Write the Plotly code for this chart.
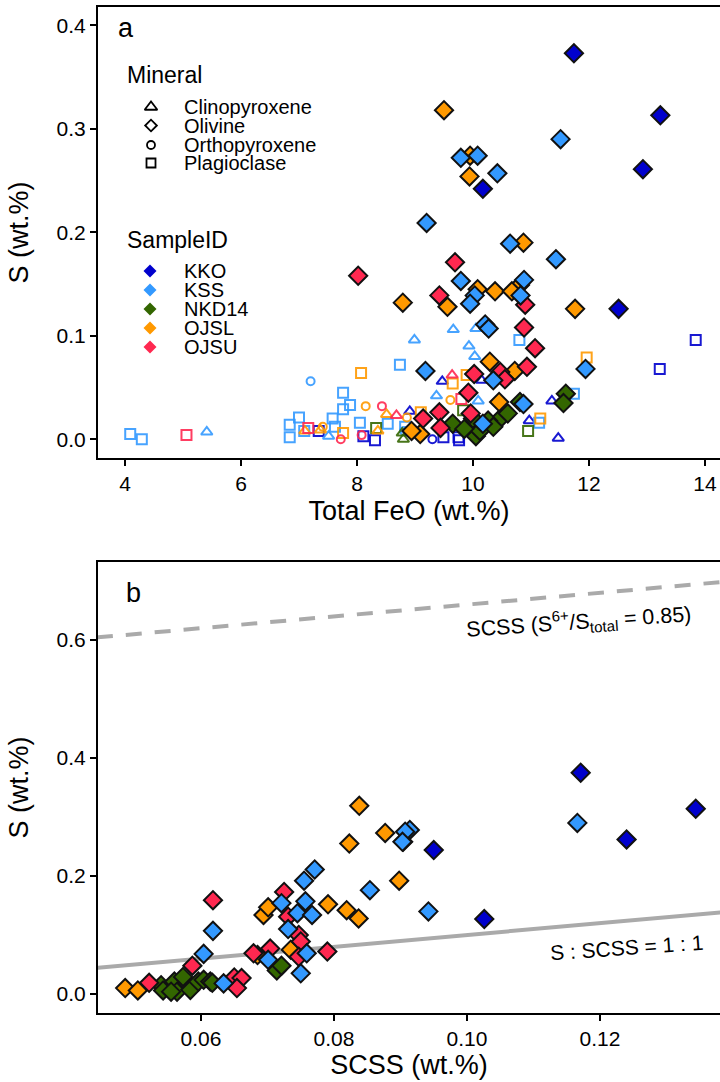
import plotly.graph_objects as go

# ---------------- data ----------------
samples = ["KKO", "KSS", "NKD14", "OJSL", "OJSU"]
sample_colors = {"KKO": "#0000CD", "KSS": "#3399FF", "NKD14": "#336600",
                 "OJSL": "#FF9900", "OJSU": "#FF2850"}
minerals = ["Clinopyroxene", "Olivine", "Orthopyroxene", "Plagioclase"]

# Panel a: olivine (filled diamonds) Total FeO vs S
ol_feo = {
    "KKO": [11.74, 13.23, 12.93, 10.17, 12.51],
    "KSS": [11.51, 9.79, 10.08, 10.42, 9.20, 10.64, 11.43, 9.79, 10.88, 10.03, 10.82, 9.95,
            10.21, 10.27, 9.18, 10.35, 11.94, 10.87, 10.17],
    "NKD14": [10.81, 11.60, 11.56, 9.65, 10.47, 10.26, 10.05, 10.12, 10.35, 9.85, 10.60, 10.00],
    "OJSL": [9.50, 9.95, 9.94, 10.87, 10.81, 10.08, 10.38, 10.67, 8.79, 9.56, 11.76, 10.29,
             10.72, 10.45, 9.09, 8.94],
    "OJSU": [9.69, 8.02, 9.42, 10.90, 10.88, 11.07, 10.93, 10.02, 10.47, 10.55, 9.92, 9.42,
             9.96, 9.14, 9.44],
}
ol_s = {
    "KKO": [0.373, 0.313, 0.261, 0.242, 0.126],
    "KSS": [0.290, 0.272, 0.274, 0.257, 0.209, 0.189, 0.174, 0.153, 0.154, 0.139, 0.139, 0.131,
            0.111, 0.107, 0.066, 0.057, 0.068, 0.034, 0.015],
    "NKD14": [0.036, 0.044, 0.035, 0.015, 0.020, 0.018, 0.003, 0.008, 0.012, 0.010, 0.025, 0.020],
    "OJSL": [0.318, 0.274, 0.254, 0.190, 0.149, 0.145, 0.143, 0.143, 0.132, 0.128, 0.126, 0.075,
             0.066, 0.036, 0.005, 0.008],
    "OJSU": [0.171, 0.158, 0.139, 0.130, 0.108, 0.088, 0.070, 0.063, 0.065, 0.058, 0.045, 0.026,
             0.025, 0.020, 0.011],
}

# Panel a: other minerals (open symbols): (sample, mineral) -> FeO, S
other_feo = {
    ("KKO", "Clinopyroxene"): [8.91, 9.47, 10.15, 11.36, 10.97, 11.47],
    ("KKO", "Orthopyroxene"): [9.30],
    ("KKO", "Plagioclase"): [7.34, 8.11, 8.31, 13.84, 13.22, 9.49, 9.75, 9.76],
    ("KSS", "Clinopyroxene"): [5.41, 7.51, 8.99, 9.66, 10.05, 9.93, 10.03, 9.37, 10.09],
    ("KSS", "Orthopyroxene"): [7.20, 8.81],
    ("KSS", "Plagioclase"): [4.09, 4.29, 8.74, 7.76, 7.88, 7.76, 7.58, 7.00, 6.84, 6.84, 7.09,
                             7.62, 8.05, 8.53, 10.80, 11.74, 11.14, 8.83],
    ("NKD14", "Clinopyroxene"): [8.78, 8.80],
    ("NKD14", "Plagioclase"): [8.33, 10.95, 9.83],
    ("OJSL", "Clinopyroxene"): [7.37, 8.36, 8.51, 7.10],
    ("OJSL", "Orthopyroxene"): [7.41, 8.15, 8.86, 9.61],
    ("OJSL", "Plagioclase"): [8.07, 7.76, 9.65, 9.89, 11.96, 11.16, 9.10],
    ("OJSU", "Clinopyroxene"): [8.68, 9.64],
    ("OJSU", "Orthopyroxene"): [7.72, 8.43, 8.08],
    ("OJSU", "Plagioclase"): [5.06, 7.16, 9.80],
}
other_s = {
    ("KKO", "Clinopyroxene"): [0.027, 0.056, 0.057, 0.037, 0.018, 0.001],
    ("KKO", "Orthopyroxene"): [0.000],
    ("KKO", "Plagioclase"): [0.008, 0.003, -0.001, 0.096, 0.068, 0.002, 0.002, -0.001],
    ("KSS", "Clinopyroxene"): [0.007, 0.003, 0.096, 0.106, 0.107, 0.090, 0.080, 0.042, 0.037],
    ("KSS", "Orthopyroxene"): [0.056, 0.008],
    ("KSS", "Plagioclase"): [0.005, 0.000, 0.072, 0.045, 0.033, 0.029, 0.020, 0.021, 0.014,
                             0.002, 0.008, 0.012, 0.016, 0.015, 0.096, 0.044, 0.016, 0.012],
    ("NKD14", "Clinopyroxene"): [0.006, 0.000],
    ("NKD14", "Plagioclase"): [0.011, 0.008, 0.028],
    ("OJSL", "Clinopyroxene"): [0.009, 0.008, 0.024, 0.008],
    ("OJSL", "Orthopyroxene"): [0.012, 0.032, 0.021, 0.038],
    ("OJSL", "Plagioclase"): [0.064, 0.006, 0.054, 0.062, 0.079, 0.020, 0.026],
    ("OJSU", "Clinopyroxene"): [0.023, 0.062],
    ("OJSU", "Orthopyroxene"): [0.000, 0.032, 0.004],
    ("OJSU", "Plagioclase"): [0.004, 0.011, 0.039],
}

# Panel b: olivine SCSS vs S
b_scss = {
    "KKO": [0.1171, 0.1344, 0.1240, 0.0950, 0.1026],
    "KSS": [0.0854, 0.0771, 0.0755, 0.0618, 0.0721, 0.0757, 0.0745, 0.0767, 0.0731, 0.0604,
            0.0701, 0.0759, 0.0750, 0.0634, 0.1166, 0.0942, 0.0914, 0.0904, 0.0907, 0.0903],
    "NKD14": [0.0714, 0.0721, 0.0540, 0.0543, 0.0560, 0.0564, 0.0579, 0.0573, 0.0584, 0.0596,
              0.0604, 0.0614, 0.0617, 0.0555],
    "OJSL": [0.0838, 0.0877, 0.0823, 0.0898, 0.0791, 0.0819, 0.0837, 0.0694, 0.0701, 0.0685,
             0.0735, 0.0486, 0.0505],
    "OJSU": [0.0618, 0.0725, 0.0731, 0.0747, 0.0587, 0.0679, 0.0704, 0.0750, 0.0747, 0.0790,
             0.0522, 0.0650, 0.0661, 0.0654],
}
b_s = {
    "KKO": [0.375, 0.314, 0.262, 0.244, 0.127],
    "KSS": [0.176, 0.211, 0.192, 0.107, 0.154, 0.157, 0.137, 0.134, 0.110, 0.068,
            0.058, 0.069, 0.035, 0.018, 0.290, 0.140, 0.278, 0.258, 0.275, 0.258],
    "NKD14": [0.040, 0.048, 0.015, 0.006, 0.021, 0.004, 0.018, 0.029, 0.007, 0.021,
              0.024, 0.021, 0.019, 0.004],
    "OJSL": [0.319, 0.273, 0.255, 0.192, 0.152, 0.142, 0.128, 0.134, 0.147, 0.066,
             0.075, 0.010, 0.006],
    "OJSU": [0.159, 0.173, 0.131, 0.100, 0.048, 0.069, 0.077, 0.089, 0.063, 0.072,
             0.019, 0.028, 0.027, 0.010],
}

# reference lines in panel b
ref_x = [0.04, 0.14]
offset_085 = 0.56  # SCSS (S6+/Stotal = 0.85) curve offset

# tick labels
a_xticks = [4, 6, 8, 10, 12, 14]
a_yticks = [0.0, 0.1, 0.2, 0.3, 0.4]
b_xticks = [0.06, 0.08, 0.10, 0.12]
b_yticks = [0.0, 0.2, 0.4, 0.6]

# ---------------- layout constants ----------------
W, H = 720, 1082
ML, MR, MT, MB = 98, 0, 7, 69
FONT = "Liberation Sans, Arial, Helvetica, sans-serif"
open_symbol = {"Clinopyroxene": "triangle-up-open", "Orthopyroxene": "circle-open",
               "Plagioclase": "square-open"}
open_size = {"Clinopyroxene": 10, "Orthopyroxene": 8, "Plagioclase": 10}
draw_order = ["NKD14", "OJSL", "OJSU", "KSS", "KKO"]

fig = go.Figure()

# open symbols (panel a)
for (smp, mn), xs in other_feo.items():
    fig.add_trace(go.Scatter(
        x=xs, y=other_s[(smp, mn)], mode="markers", xaxis="x", yaxis="y",
        marker=dict(symbol=open_symbol[mn], size=open_size[mn], color=sample_colors[smp],
                    line=dict(width=2, color=sample_colors[smp]), opacity=0.9),
        showlegend=False, hoverinfo="skip"))

# olivine diamonds (panel a)
for smp in draw_order:
    fig.add_trace(go.Scatter(
        x=ol_feo[smp], y=ol_s[smp], mode="markers", xaxis="x", yaxis="y",
        marker=dict(symbol="diamond", size=14, color=sample_colors[smp],
                    line=dict(width=2, color="#111111")),
        showlegend=False, hoverinfo="skip"))

# reference lines (panel b)
fig.add_trace(go.Scatter(x=ref_x, y=[v + offset_085 for v in ref_x], mode="lines",
                         xaxis="x2", yaxis="y2", line=dict(color="#AAAAAA", width=4, dash="16px,13px"),
                         showlegend=False, hoverinfo="skip"))
fig.add_trace(go.Scatter(x=ref_x, y=ref_x, mode="lines", xaxis="x2", yaxis="y2",
                         line=dict(color="#AAAAAA", width=4), showlegend=False, hoverinfo="skip"))

# olivine diamonds (panel b)
for smp in draw_order:
    fig.add_trace(go.Scatter(
        x=b_scss[smp], y=b_s[smp], mode="markers", xaxis="x2", yaxis="y2",
        marker=dict(symbol="diamond", size=14, color=sample_colors[smp],
                    line=dict(width=2, color="#111111")),
        showlegend=False, hoverinfo="skip"))

# ---------------- manual legend (pixel overlay axes) ----------------
leg_sym_x = 151
leg_text_x = 182
mineral_rows = [107, 125.5, 145, 163]
sample_rows = [271, 290, 309, 328, 347]
leg_symbols = ["triangle-up-open", "diamond-open", "circle-open", "square-open"]
leg_sizes = [11, 9, 8, 9]
for sym, sz, yy in zip(leg_symbols, leg_sizes, mineral_rows):
    fig.add_trace(go.Scatter(x=[leg_sym_x], y=[yy], mode="markers", xaxis="x3", yaxis="y3",
                             marker=dict(symbol=sym, size=sz, color="black",
                                         line=dict(width=1.8, color="black")),
                             showlegend=False, hoverinfo="skip"))
for smp, yy in zip(samples, sample_rows):
    fig.add_trace(go.Scatter(x=[leg_sym_x - 1], y=[yy], mode="markers", xaxis="x3", yaxis="y3",
                             marker=dict(symbol="diamond", size=10, color=sample_colors[smp],
                                         line=dict(width=0)),
                             showlegend=False, hoverinfo="skip"))

annotations = []
annotations.append(dict(text="Mineral", x=125, y=75, xref="x3", yref="y3", xanchor="left",
                        yanchor="middle", showarrow=False, font=dict(size=23, family=FONT, color="black")))
for mn, yy in zip(minerals, mineral_rows):
    annotations.append(dict(text=mn, x=leg_text_x, y=yy, xref="x3", yref="y3", xanchor="left",
                            yanchor="middle", showarrow=False,
                            font=dict(size=20, family=FONT, color="black")))
annotations.append(dict(text="SampleID", x=125, y=240, xref="x3", yref="y3", xanchor="left",
                        yanchor="middle", showarrow=False, font=dict(size=23, family=FONT, color="black")))
for smp, yy in zip(samples, sample_rows):
    annotations.append(dict(text=smp, x=leg_text_x, y=yy, xref="x3", yref="y3", xanchor="left",
                            yanchor="middle", showarrow=False,
                            font=dict(size=20, family=FONT, color="black")))
# panel labels
annotations.append(dict(text="a", x=116, y=28, xref="x3", yref="y3", xanchor="left",
                        yanchor="middle", showarrow=False, font=dict(size=27, family=FONT, color="black")))
annotations.append(dict(text="b", x=124, y=593, xref="x3", yref="y3", xanchor="left",
                        yanchor="middle", showarrow=False, font=dict(size=27, family=FONT, color="black")))
# line labels (panel b)
annotations.append(dict(text="SCSS (S<sup>6+</sup>/S<sub>total</sub> = 0.85)", x=0.1168, y=0.632,
                        xref="x2", yref="y2", showarrow=False, textangle=-4,
                        font=dict(size=21.5, family=FONT, color="black")))
annotations.append(dict(text="S : SCSS = 1 : 1", x=0.1240, y=0.078, xref="x2", yref="y2",
                        showarrow=False, textangle=-4, font=dict(size=21, family=FONT, color="black")))

axis_common = dict(showline=True, linewidth=2, linecolor="black", ticks="outside", ticklen=6,
                   tickwidth=1.5, tickcolor="black", showgrid=False, zeroline=False,
                   tickfont=dict(size=21, family=FONT, color="black"), automargin=False)

fig.update_layout(
    width=W, height=H, margin=dict(l=ML, r=MR, t=MT, b=MB),
    paper_bgcolor="white", plot_bgcolor="rgba(0,0,0,0)",
    showlegend=False, annotations=annotations,
    xaxis=dict(domain=[0, 1], anchor="y", range=[3.5345, 14.2586], tickvals=a_xticks,
               mirror=True,
               title=dict(text="Total FeO (wt.%)", font=dict(size=27, family=FONT, color="black"),
                          standoff=7), **axis_common),
    yaxis=dict(domain=[0.5517, 1], anchor="x", range=[-0.0181, 0.4177], tickvals=a_yticks,
               tickformat=".1f",
               title=dict(text="S (wt.%)", font=dict(size=27, family=FONT, color="black"),
                          standoff=20), **axis_common),
    xaxis2=dict(domain=[0, 1], anchor="y2", range=[0.04451, 0.13805], tickvals=b_xticks,
                tickformat=".2f", mirror=True,
                title=dict(text="SCSS (wt.%)", font=dict(size=27, family=FONT, color="black"),
                           standoff=6), **axis_common),
    yaxis2=dict(domain=[0, 0.4483], anchor="x2", range=[-0.0322, 0.7322], tickvals=b_yticks,
                tickformat=".1f",
                title=dict(text="S (wt.%)", font=dict(size=27, family=FONT, color="black"),
                           standoff=20), **axis_common),
    xaxis3=dict(domain=[0, 1], anchor="y3", range=[ML, W - MR], visible=False, fixedrange=True),
    yaxis3=dict(domain=[0, 1], anchor="x3", range=[H - MB, MT], visible=False, fixedrange=True),
)

fig.write_html("out.html")
